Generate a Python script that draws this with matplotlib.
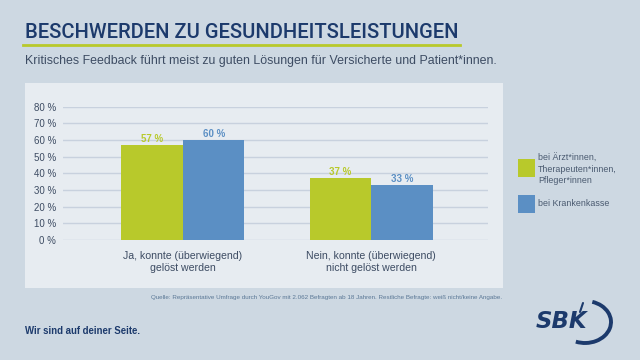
import matplotlib
matplotlib.use("Agg")
import matplotlib.pyplot as plt
from matplotlib.patches import Rectangle, Arc
import numpy as np

# data
categories = ["Ja, konnte (überwiegend)\ngelöst werden",
              "Nein, konnte (überwiegend)\nnicht gelöst werden"]
series_names = ["bei Ärzt*innen,\nTherapeuten*innen,\nPfleger*innen", "bei Krankenkasse"]
aerzte = [57, 37]
kasse = [60, 33]
yticks = [0, 10, 20, 30, 40, 50, 60, 70, 80]

W, H = 640, 360
BG = "#cdd8e2"
PANEL = "#e7ecf1"
GREEN = "#b8c92b"
BLUE = "#5b8fc4"
NAVY = "#1c3a6c"
TEXT = "#3d4c63"
TITLE_F = ["Roboto", "DejaVu Sans"]
SANS = ["Liberation Sans", "DejaVu Sans"]


def fx(x):
    return x / W


def fy(y):
    return 1 - y / H


fig = plt.figure(figsize=(6.4, 3.6), dpi=100, facecolor=BG)

# light panel behind the chart
fig.patches.append(Rectangle((fx(25), fy(288)), fx(503) - fx(25), fy(83) - fy(288),
                             transform=fig.transFigure, facecolor=PANEL,
                             edgecolor="none", zorder=-5))

# title, underline, subtitle
fig.text(fx(25), fy(33), "BESCHWERDEN ZU GESUNDHEITSLEISTUNGEN", family=TITLE_F,
         fontsize=14.5, fontweight="medium", color=NAVY, va="center", ha="left")
fig.lines.append(plt.Line2D([fx(23), fx(460)], [fy(45), fy(45)], transform=fig.transFigure,
                            color=GREEN, lw=2))
fig.text(fx(25), fy(61), "Kritisches Feedback führt meist zu guten Lösungen für Versicherte und Patient*innen.",
         family=SANS, fontsize=8.9, color=TEXT, va="center", ha="left")

# chart
ax = fig.add_axes([fx(63), fy(240), fx(488) - fx(63), fy(106.7) - fy(240)])
ax.set_facecolor("none")
x = np.arange(len(categories))
bw = 0.327
ax.bar(x - bw / 2, aerzte, width=bw, color=GREEN, zorder=3)
ax.bar(x + bw / 2, kasse, width=bw, color=BLUE, zorder=3)
for xi, v in zip(x, aerzte):
    ax.annotate(f"{v} %", (xi - bw / 2, v), xytext=(0, 6), textcoords="offset pixels",
                ha="center", va="center", fontsize=7, color=GREEN, family=SANS, fontweight="bold",
                annotation_clip=False)
for xi, v in zip(x, kasse):
    ax.annotate(f"{v} %", (xi + bw / 2, v), xytext=(0, 6), textcoords="offset pixels",
                ha="center", va="center", fontsize=7, color=BLUE, family=SANS, fontweight="bold",
                annotation_clip=False)

ax.set_xlim(-0.638, 1.622)
ax.set_ylim(0, 80)
ax.set_yticks(yticks)
ax.set_yticklabels([f"{t} %" for t in yticks], family=SANS, fontsize=7, color=TEXT)
ax.set_xticks(x)
ax.set_xticklabels(categories, family=SANS, fontsize=7.6, color=TEXT, linespacing=1.25)
ax.tick_params(axis="both", length=0)
ax.tick_params(axis="y", pad=5)
ax.tick_params(axis="x", pad=8)
ax.grid(axis="y", color="#c8d1de", lw=1, zorder=0)
for s in ax.spines.values():
    s.set_visible(False)

# legend
for name, col, ytop in zip(series_names, [GREEN, BLUE], [159.3, 195]):
    fig.patches.append(Rectangle((fx(517.5), fy(ytop + 17.5)), fx(17.5), 17.5 / H,
                                 transform=fig.transFigure, facecolor=col, edgecolor="none"))
fig.text(fx(538), fy(169), series_names[0], family=SANS, fontsize=6.4, color="#4a5a70",
         va="center", ha="left", linespacing=1.3)
fig.text(fx(538), fy(204), series_names[1], family=SANS, fontsize=6.4, color="#4a5a70",
         va="center", ha="left")

# footer
fig.text(fx(502), fy(298),
         "Quelle: Repräsentative Umfrage durch YouGov mit 2.062 Befragten ab 18 Jahren. "
         "Restliche Befragte: weiß nicht/keine Angabe.",
         family=SANS, fontsize=4.5, color="#5b7896", ha="right", va="center")
fig.text(fx(25), fy(331), "Wir sind auf deiner Seite.", family=SANS, fontsize=6.9,
         color=NAVY, fontweight="bold", ha="left", va="center")

# logo
fig.text(fx(561), fy(322), "SBK", family=["DejaVu Sans"], fontsize=16.5, fontweight="bold",
         fontstyle="italic", color=NAVY, ha="center", va="center")
lax = fig.add_axes([fx(545), fy(350), fx(80), 50 / H])
lax.set_xlim(0, 80)
lax.set_ylim(0, 50)
lax.axis("off")
lax.add_patch(Arc((40, 28), 52, 42, theta1=-115, theta2=70, color=NAVY, lw=2.8))
lax.plot([38, 35], [47, 38], color=NAVY, lw=1.5, solid_capstyle="round")

fig.savefig("out.png", dpi=100, facecolor=BG)
